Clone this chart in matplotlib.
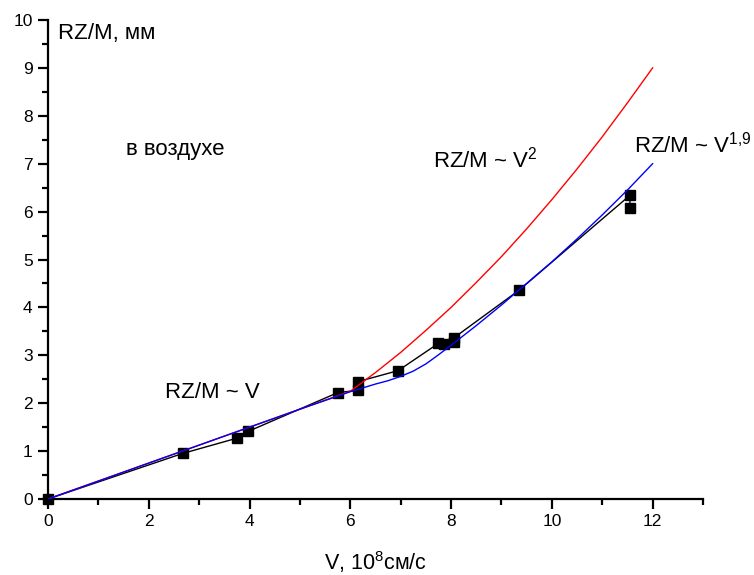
import matplotlib
matplotlib.use("Agg")
import matplotlib.pyplot as plt
from matplotlib.ticker import MultipleLocator

plt.rcParams['font.family'] = ['Liberation Sans', 'DejaVu Sans']
plt.rcParams['mathtext.fontset'] = 'custom'
plt.rcParams['mathtext.rm'] = 'Liberation Sans'
plt.rcParams['mathtext.it'] = 'Liberation Sans:italic'
plt.rcParams['mathtext.default'] = 'rm'

# experimental points
v_data = [0.0, 2.67, 3.75, 3.97, 5.75, 6.15, 6.15, 6.95, 7.75, 7.85, 8.05, 8.05, 9.35, 11.55, 11.55]
rz_data = [0.0, 0.95, 1.27, 1.41, 2.22, 2.27, 2.45, 2.68, 3.25, 3.23, 3.27, 3.36, 4.36, 6.34, 6.08]

# red curve RZ/M ~ V^2
v_red = [0, 1, 2, 3, 4, 5, 6, 6.5, 7, 7.5, 8, 8.5, 9, 9.5, 10, 10.5, 11, 11.5, 12]
rz_red = [0, 0.375, 0.75, 1.125, 1.5, 1.875, 2.25, 2.64, 3.06, 3.52, 4.0, 4.52,
          5.06, 5.64, 6.25, 6.89, 7.56, 8.27, 9.0]

# blue curve RZ/M ~ V^1.9
v_blue = [0, 1, 2, 3, 4, 5, 6, 6.25, 6.5, 6.75, 7, 7.25, 7.5, 7.75, 8, 8.5, 9,
          9.5, 10, 10.5, 11, 11.5, 12]
rz_blue = [0, 0.375, 0.75, 1.125, 1.5, 1.875, 2.24, 2.32, 2.40, 2.47, 2.56, 2.67,
           2.82, 3.01, 3.21, 3.62, 4.05, 4.5, 4.95, 5.43, 5.93, 6.45, 7.0]

fig = plt.figure(figsize=(7.54, 5.75), dpi=100)
ax = fig.add_axes([48/754, 1-499/575, (703-48)/754, (499-20)/575])

ax.plot(v_data, rz_data, color='black', lw=1.0, marker='s', ms=7.8,
        mfc='black', mec='black', zorder=2, clip_on=False)
ax.plot(v_red, rz_red, color='#ff0000', lw=1.0, zorder=3)
ax.plot(v_blue, rz_blue, color='#0000ff', lw=1.0, zorder=4)

ax.set_xlim(0, 13)
ax.set_ylim(0, 10)
ax.spines['top'].set_visible(False)
ax.spines['right'].set_visible(False)
for s in ('left', 'bottom'):
    ax.spines[s].set_linewidth(1.6)

ax.xaxis.set_major_locator(MultipleLocator(2))
ax.xaxis.set_minor_locator(MultipleLocator(1))
ax.yaxis.set_major_locator(MultipleLocator(1))
ax.yaxis.set_minor_locator(MultipleLocator(0.5))
ax.tick_params(which='major', direction='out', length=7, width=1.6, labelsize=12.5, pad=4)
ax.tick_params(which='minor', direction='out', length=4, width=1.6)

ax.set_xlabel('V, 10$^{8}$см/с', fontsize=15.5, labelpad=14)

fs = 16
fig.text(58/754, 1-33/575, 'RZ/M, мм', fontsize=fs, va='center', ha='left')
fig.text(126/754, 1-150/575, 'в воздухе', fontsize=fs, va='center', ha='left')
fig.text(165/754, 1-392/575, 'RZ/M ~ V', fontsize=fs, va='center', ha='left')
fig.text(433/754, 1-160/575, 'RZ/M ~ V$^{2}$', fontsize=fs, va='center', ha='left')
fig.text(634/754, 1-145/575, 'RZ/M ~ V$^{1{,}9}$', fontsize=fs, va='center', ha='left')

fig.savefig('out.png', dpi=100)
